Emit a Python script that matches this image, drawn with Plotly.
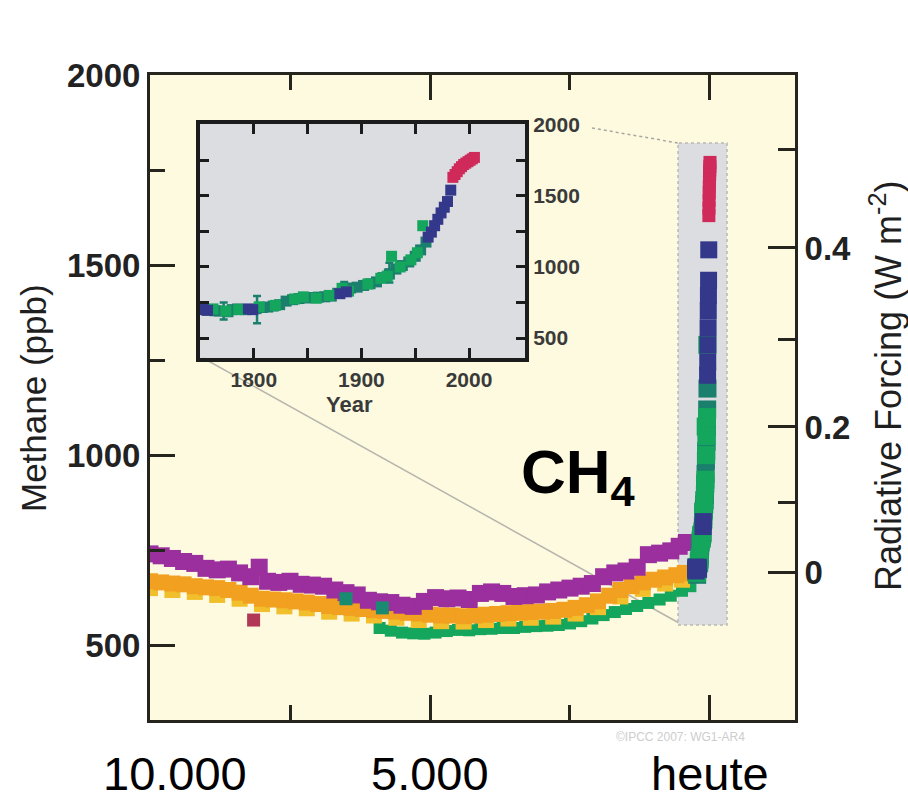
import plotly.graph_objects as go

W, H = 908, 799

# ---------------- Holocene ice-core records (years before 2005, ppb) ----------------
purple_bp = [10000, 9800, 9600, 9400, 9200, 9000, 8800, 8600, 8400, 8200, 8050, 7900, 7700, 7500,
             7300, 7100, 6900, 6700, 6500, 6300, 6100, 5900, 5700, 5500, 5300, 5100, 4900, 4700,
             4500, 4300, 4100, 3900, 3700, 3500, 3300, 3100, 2900, 2700, 2500, 2300, 2100, 1900,
             1700, 1500, 1300, 1100, 900, 700, 550, 420]
purple_ppb = [740, 735, 728, 720, 715, 702, 698, 700, 690, 680, 705, 668, 665, 668,
              660, 658, 655, 645, 638, 632, 618, 614, 612, 605, 602, 615, 625, 622,
              624, 620, 636, 640, 636, 628, 630, 632, 640, 645, 650, 655, 662, 680,
              690, 695, 705, 738, 742, 748, 760, 770]

orange_bp = [10000, 9800, 9600, 9400, 9200, 9000, 8800, 8600, 8400, 8200, 8000, 7800, 7600, 7400,
             7200, 7000, 6800, 6600, 6400, 6200, 6000, 5800, 5600, 5400, 5200, 5000, 4800, 4600,
             4400, 4200, 4000, 3800, 3600, 3400, 3200, 3000, 2800, 2600, 2400, 2200, 2000, 1800,
             1600, 1400, 1200, 1000, 800, 600, 450]
orange_ppb = [668, 665, 662, 660, 655, 652, 650, 645, 638, 630, 622, 620, 618, 615,
              612, 608, 603, 600, 598, 595, 592, 590, 588, 585, 583, 580, 578, 578,
              576, 578, 580, 582, 584, 585, 587, 588, 590, 593, 598, 605, 615, 630,
              645, 655, 665, 672, 678, 684, 690]

gold_bp = [10000, 9600, 9200, 8800, 8400, 8000, 7600, 7200, 6800, 6400, 6000, 5600, 5200,
           4800, 4400, 4000, 3600, 3200, 2800, 2400, 2000, 1600, 1200, 800, 500]
gold_ppb = [650, 645, 640, 632, 622, 608, 602, 597, 588, 583, 578, 572, 566,
            563, 562, 566, 570, 572, 575, 583, 600, 628, 648, 662, 672]

green_bp = [5900, 5700, 5500, 5300, 5100, 4900, 4700, 4500, 4300, 4100, 3900, 3700, 3500,
            3300, 3100, 2900, 2700, 2500, 2300, 2100, 1900, 1700, 1500, 1300, 1100, 900,
            700, 500, 350]
green_ppb = [545, 538, 533, 531, 530, 533, 537, 540, 539, 542, 543, 545, 545,
             548, 550, 551, 553, 557, 563, 570, 579, 587, 595, 603, 611, 620,
             630, 643, 655]

odd_bp = [8150, 6500, 5850]
odd_ppb = [566, 622, 598]
odd_color = ["#b03a55", "#1a8a70", "#1a8a70"]

# ---------------- Industrial-era records (calendar year, ppb) ----------------
navy_year = [1750, 1753, 1757, 1795, 1799, 1880, 1886, 1962, 1965, 1968, 1971, 1974, 1977,
             1980, 1983]
navy_ppb = [700, 705, 695, 705, 700, 812, 825, 1210, 1245, 1290, 1335, 1380, 1420,
            1460, 1540]

teal_year = [1756, 1760, 1764, 1768, 1776, 1780, 1785, 1792, 1808, 1813, 1818, 1824,
             1830, 1836, 1842, 1848, 1854, 1860, 1866, 1872, 1878, 1884, 1890, 1896, 1902,
             1908, 1914, 1920, 1926, 1932, 1938, 1944, 1950, 1955, 1960]
teal_ppb = [698, 700, 692, 690, 685, 700, 705, 700, 715, 718, 725, 735,
            760, 770, 778, 782, 785, 788, 790, 795, 815, 840, 852, 858, 870,
            882, 895, 925, 950, 985, 1010, 1035, 1075, 1120, 1175]

bar_year = [1772, 1803, 1884, 1926]
bar_ppb = [690, 700, 850, 960]
bar_err = [60, 95, 45, 70]

green_year = [1762, 1774, 1786, 1805, 1820, 1838, 1846, 1858, 1870, 1882, 1888, 1906,
              1918, 1924, 1928, 1936, 1946, 1952, 1957]
green_ppb_ind = [705, 690, 700, 720, 730, 775, 790, 780, 800, 850, 830, 880,
                 920, 935, 1075, 1000, 1050, 1100, 1290]

red_year = [1985, 1987, 1989, 1991, 1993, 1995, 1997, 1999, 2001, 2003, 2005]
red_ppb = [1630, 1650, 1670, 1690, 1705, 1720, 1730, 1740, 1750, 1760, 1770]

# right-hand radiative forcing scale, placed on the ppb axis
forcing_labels = ["0", "0.2", "0.4"]
forcing_ppb = [692, 1074, 1545]
forcing_minor_ppb = [874, 1303, 1803]

# bottom time labels (years before present)
time_bp = [10000, 5000, 0]
time_text = ["10.000", "5.000", "heute"]

REF_YEAR = 2005

PURPLE = "#9b2f9e"
ORANGE = "#f2a020"
GOLD = "#f1bf2c"
GREEN = "#14a65c"
TEAL = "#1a7f6c"
NAVY = "#33388a"
RED = "#cf2a5a"
CREAM = "#fdfadf"
INSET_BG = "#dcdde1"
AX = "#26251d"
FONT = "Liberation Sans, Arial, sans-serif"


def fx(px):
    return px / W


def fy(py):
    return 1 - py / H


fig = go.Figure()


def sq(x, y, color, size, xa="x", ya="y", err=None):
    tr = go.Scatter(
        x=x, y=y, mode="markers", xaxis=xa, yaxis=ya, showlegend=False,
        hoverinfo="skip",
        marker=dict(symbol="square", size=size, color=color, line=dict(width=0)),
    )
    if err is not None:
        tr.error_y = dict(type="data", array=err, visible=True, color=color,
                          thickness=2.5, width=4)
    fig.add_trace(tr)


# main panel: Holocene bands
sq(green_bp, green_ppb, GREEN, 12)
sq(gold_bp, gold_ppb, GOLD, 16)
sq(orange_bp, orange_ppb, ORANGE, 16)
sq(purple_bp, purple_ppb, PURPLE, 17)
sq(odd_bp, odd_ppb, odd_color, 13)

# main panel: industrial era compressed at the right edge
to_bp = lambda yrs: [REF_YEAR - v for v in yrs]
sq(to_bp(teal_year), teal_ppb, TEAL, 18)
sq(to_bp(green_year), green_ppb_ind, GREEN, 18)
sq(to_bp(navy_year), navy_ppb, NAVY, 17)
sq(to_bp(red_year), red_ppb, RED, 13)

# inset: 1750 - 2005
sq(teal_year, teal_ppb, TEAL, 11, "x2", "y2")
sq(bar_year, bar_ppb, TEAL, 9, "x2", "y2", err=bar_err)
sq(green_year, green_ppb_ind, GREEN, 11, "x2", "y2")
sq(navy_year, navy_ppb, NAVY, 11, "x2", "y2")
sq(red_year, red_ppb, RED, 11, "x2", "y2")

# empty trace so the forcing axis gets its own subplot
fig.add_trace(go.Scatter(x=[None], y=[None], xaxis="x", yaxis="y3", mode="markers",
                         showlegend=False, hoverinfo="skip"))

tick_font = dict(family=FONT, size=33, color="#222222", weight="bold")
inset_font = dict(family=FONT, size=21, color="#3a3a3a", weight="bold")

fig.update_layout(
    width=W, height=H,
    margin=dict(l=0, r=0, t=0, b=0, autoexpand=False),
    paper_bgcolor="white",
    plot_bgcolor="rgba(0,0,0,0)",
    showlegend=False,
    xaxis=dict(
        domain=[fx(150), fx(795)], range=[10000, -1518], anchor="y", automargin=False,
        showline=True, linewidth=3, linecolor=AX, mirror="ticks",
        ticks="inside", tickmode="array", tickvals=[5000, 0], ticklen=25,
        tickwidth=3, tickcolor=AX, showticklabels=False,
        minor=dict(tickmode="array", tickvals=[7500, 2500], ticklen=15,
                   tickwidth=3, tickcolor=AX, ticks="inside"),
        showgrid=False, zeroline=False,
    ),
    yaxis=dict(
        domain=[fy(720), fy(75)], range=[303, 2000], anchor="x", automargin=False,
        showline=True, linewidth=3, linecolor=AX,
        ticks="inside", tickmode="array", tickvals=[500, 1000, 1500, 2000],
        ticklen=25, tickwidth=3, tickcolor=AX, tickfont=tick_font,
        minor=dict(tickmode="array", tickvals=[750, 1250, 1750], ticklen=15,
                   tickwidth=3, tickcolor=AX, ticks="inside"),
        showgrid=False, zeroline=False,
    ),
    yaxis3=dict(
        overlaying="y", side="right", anchor="x", range=[303, 2000], automargin=False,
        showline=True, linewidth=3, linecolor=AX,
        ticks="inside", tickmode="array", tickvals=forcing_ppb, ticktext=forcing_labels,
        ticklen=27, tickwidth=3, tickcolor=AX, tickfont=tick_font,
        minor=dict(tickmode="array", tickvals=forcing_minor_ppb, ticklen=17,
                   tickwidth=3, tickcolor=AX, ticks="inside"),
        showgrid=False, zeroline=False,
    ),
    xaxis2=dict(
        domain=[fx(200), fx(525)], range=[1750, 2052], anchor="y2", automargin=False,
        showline=True, linewidth=4, linecolor="#1c1c1c", mirror="ticks",
        ticks="inside", tickmode="array", tickvals=[1800, 1850, 1900, 1950, 2000],
        ticktext=["1800", "", "1900", "", "2000"],
        ticklen=10, tickwidth=3, tickcolor="#1c1c1c", tickfont=inset_font,
        showgrid=False, zeroline=False,
    ),
    yaxis2=dict(
        domain=[fy(358), fy(124)], range=[360, 2005], anchor="x2", side="right",
        automargin=False,
        showline=True, linewidth=4, linecolor="#1c1c1c", mirror="ticks",
        ticks="inside", tickmode="array",
        tickvals=[500, 750, 1000, 1250, 1500, 1750, 2000],
        ticktext=["500", "", "1000", "", "1500", "", "2000"],
        ticklen=9, tickwidth=3, tickcolor="#1c1c1c", tickfont=inset_font,
        showgrid=False, zeroline=False,
    ),
)

shapes = [
    # plot-area background
    dict(type="rect", xref="paper", yref="paper", x0=fx(150), x1=fx(795),
         y0=fy(720), y1=fy(75), fillcolor=CREAM, line=dict(width=0), layer="below"),
    # inset background
    dict(type="rect", xref="paper", yref="paper", x0=fx(200), x1=fx(525),
         y0=fy(358), y1=fy(124), fillcolor=INSET_BG, line=dict(width=0), layer="below"),
    # zoomed region in the main panel
    dict(type="rect", xref="x", yref="y", x0=571, x1=-304, y0=553, y1=1821,
         fillcolor=INSET_BG, line=dict(width=1.5, color="#b9b9b0", dash="dot"),
         layer="below"),
    # connector lines between inset and zoomed region
    dict(type="line", xref="paper", yref="paper", x0=fx(592), y0=fy(128),
         x1=fx(678), y1=fy(143), line=dict(width=1.5, color="#a8a8a0", dash="dot"),
         layer="below"),
    dict(type="line", xref="paper", yref="paper", x0=fx(203), y0=fy(358),
         x1=fx(679), y1=fy(623), line=dict(width=1.5, color="#b5b5ad"),
         layer="below"),
]
fig.update_layout(shapes=shapes)

ann = [
    dict(text="Methane (ppb)", x=fx(33), y=fy(398), textangle=-90,
         font=dict(family=FONT, size=35, color="#1f1f1f")),
    dict(text="Radiative Forcing (W m<sup>-2</sup>)", x=fx(886), y=fy(386), textangle=-90,
         font=dict(family=FONT, size=36, color="#1f1f1f")),
    dict(text="<b>CH<sub>4</sub></b>", x=fx(519), y=fy(476), xanchor="left",
         font=dict(family=FONT, size=62, color="black")),
    dict(text="Year", x=fx(349), y=fy(404),
         font=dict(family=FONT, size=22, color="#3a3a3a", weight="bold")),
    dict(text="©IPCC 2007: WG1-AR4", x=fx(680), y=fy(737),
         font=dict(family=FONT, size=12, color="#cdcdcd")),
]
for a in ann:
    a.update(xref="paper", yref="paper", showarrow=False)
    a.setdefault("xanchor", "center")
    a.setdefault("yanchor", "middle")

shift = {10000: 25, 5000: 0, 0: 0}
for bp, t in zip(time_bp, time_text):
    ann.append(dict(text=t, x=bp, xref="x", y=fy(773), yref="paper",
                    xshift=shift[bp], showarrow=False, xanchor="center", yanchor="middle",
                    font=dict(family=FONT, size=47, color="black")))
fig.update_layout(annotations=ann)

fig.write_html("out.html")
